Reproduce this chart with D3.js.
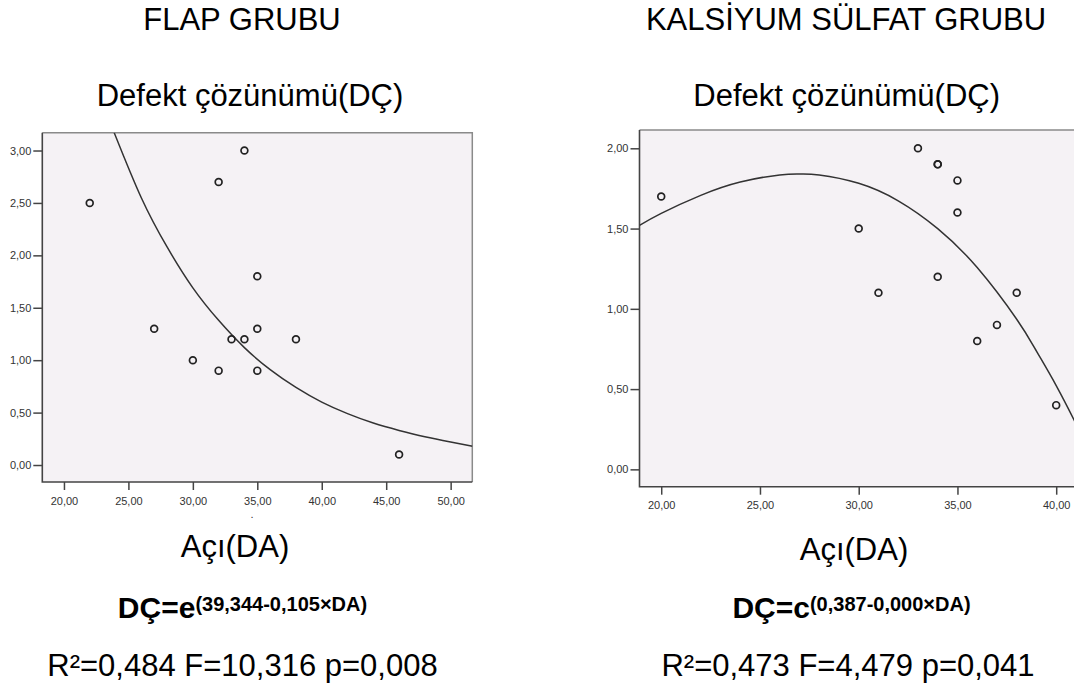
<!DOCTYPE html>
<html lang="tr">
<head>
  <meta charset="UTF-8">
  <style>
    body {
      margin: 0;
      overflow: hidden;
      background: #fff;
    }

    svg {
      display: block;
      font-family: "Liberation Sans", Arial, sans-serif;
    }

    .tick text {
      fill: #333;
      font-size: 11px;
    }

    .tick line {
      stroke: #444;
      stroke-width: 1.5;
    }

    .pt {
      fill: none;
      stroke: #222;
      stroke-width: 1.7;
    }

    .fit {
      fill: none;
      stroke: #333;
      stroke-width: 1.5;
    }
  </style>
  <script src="https://d3js.org/d3.v7.min.js"></script>
</head>
<body>

<svg id="charts"></svg>

<script>
  // FLAP GRUBU - observed points
  const flapAngle  = [22, 27, 30, 32, 32, 33, 34, 34, 35, 35, 35, 38, 46];
  const flapDefect = [2.5, 1.3, 1.0, 2.7, 0.9, 1.2, 3.0, 1.2, 1.8, 1.3, 0.9, 1.2, 0.1];
  // fitted curve
  const flapCurveX = [23.9, 26, 28, 30, 32, 34, 36, 38, 40, 42, 44, 46, 48, 50, 51.7];
  const flapCurveY = [3.17, 2.55, 2.08, 1.69, 1.38, 1.12, 0.91, 0.74, 0.60, 0.49, 0.40, 0.33, 0.27, 0.22, 0.18];

  // KALSİYUM SÜLFAT GRUBU - observed points
  const ksAngle  = [20, 30, 31, 33, 34, 34, 34, 35, 35, 36, 37, 38, 40];
  const ksDefect = [1.7, 1.5, 1.1, 2.0, 1.9, 1.9, 1.2, 1.8, 1.6, 0.8, 0.9, 1.1, 0.4];
  const ksCurveX = [18.9, 20, 22, 24, 26, 27, 28, 30, 32, 34, 36, 38, 39, 40, 41, 41.5];
  const ksCurveY = [1.52, 1.595, 1.707, 1.79, 1.834, 1.84, 1.834, 1.782, 1.673, 1.50, 1.257, 0.935, 0.737, 0.522, 0.284, 0.157];

  const flapXTicks = [20, 25, 30, 35, 40, 45, 50];
  const flapYTicks = [0, 0.5, 1, 1.5, 2, 2.5, 3];
  const ksXTicks = [20, 25, 30, 35, 40];
  const ksYTicks = [0, 0.5, 1, 1.5, 2];

  const trFormat = d3.formatLocale({ decimal: ",", thousands: ".", grouping: [3], currency: ["", ""] }).format(".2f");

  const svg = d3.select("#charts")
    .attr("width", 1074)
    .attr("height", 689);

  function panel(cfg) {
    const x = d3.scaleLinear().domain(cfg.xDomain).range(cfg.xRange);
    const y = d3.scaleLinear().domain(cfg.yDomain).range(cfg.yRange);
    const g = svg.append("g");

    const [x0, x1] = cfg.xRange;
    const [y0, y1] = cfg.yRange;

    g.append("rect")
      .attr("x", x0).attr("y", y1)
      .attr("width", x1 - x0).attr("height", y0 - y1)
      .attr("fill", "#f5f2f5");

    const clipId = cfg.id + "-clip";
    g.append("clipPath").attr("id", clipId)
      .append("rect")
      .attr("x", x0).attr("y", y1)
      .attr("width", x1 - x0).attr("height", y0 - y1);

    // axes
    g.append("g")
      .attr("transform", `translate(0,${y0})`)
      .call(d3.axisBottom(x).tickValues(cfg.xTicks).tickFormat(trFormat).tickSize(8).tickSizeOuter(0).tickPadding(7))
      .call(a => a.select(".domain").remove());

    g.append("g")
      .attr("transform", `translate(${x0},0)`)
      .call(d3.axisLeft(y).tickValues(cfg.yTicks).tickFormat(trFormat).tickSize(9).tickSizeOuter(0).tickPadding(2))
      .call(a => a.select(".domain").remove());

    // frame: top/right lighter than left/bottom
    g.append("path")
      .attr("d", `M${x0},${y1}H${x1}V${y0}`)
      .attr("fill", "none").attr("stroke", "#8a8a8a").attr("stroke-width", 1.5);
    g.append("path")
      .attr("d", `M${x0},${y1}V${y0}H${x1}`)
      .attr("fill", "none").attr("stroke", "#444").attr("stroke-width", 1.6);

    const curve = cfg.curveX.map((v, i) => [v, cfg.curveY[i]]);
    g.append("path")
      .attr("class", "fit")
      .attr("clip-path", `url(#${clipId})`)
      .attr("d", d3.line().x(d => x(d[0])).y(d => y(d[1])).curve(d3.curveNatural)(curve));

    g.selectAll("circle.pt")
      .data(cfg.px.map((v, i) => [v, cfg.py[i]]))
      .join("circle")
      .attr("class", "pt")
      .attr("cx", d => x(d[0]))
      .attr("cy", d => y(d[1]))
      .attr("r", 3.4);

    // texts
    g.append("text")
      .attr("x", cfg.cx).attr("y", 30)
      .attr("text-anchor", "middle")
      .attr("font-size", 31)
      .text(cfg.title);

    g.append("text")
      .attr("x", cfg.cx + cfg.subOff).attr("y", 106)
      .attr("text-anchor", "middle")
      .attr("font-size", 31)
      .text("Defekt çözünümü(DÇ)");

    g.append("text")
      .attr("x", cfg.axisCx).attr("y", cfg.axisY)
      .attr("text-anchor", "middle")
      .attr("font-size", 31)
      .text("Açı(DA)");

    const eq = g.append("text")
      .attr("x", cfg.eqCx).attr("y", 618)
      .attr("text-anchor", "middle")
      .attr("font-weight", "bold");
    eq.append("tspan").attr("font-size", 30).text(cfg.eqMain);
    eq.append("tspan").attr("font-size", 20).attr("dy", -7).text(cfg.eqSup);

    g.append("text")
      .attr("x", cfg.statCx).attr("y", 676)
      .attr("text-anchor", "middle")
      .attr("font-size", 31)
      .text(cfg.stats);

    return { x, y, g };
  }

  const left = panel({
    id: "flap",
    xDomain: [18.32, 51.68], xRange: [42.3, 472.3],
    yDomain: [-0.162, 3.169], yRange: [482, 132.8],
    xTicks: flapXTicks, yTicks: flapYTicks,
    px: flapAngle, py: flapDefect,
    curveX: flapCurveX, curveY: flapCurveY,
    title: "FLAP GRUBU", cx: 242, subOff: 8,
    axisCx: 235, axisY: 557,
    eqCx: 242.5, eqMain: "DÇ=e", eqSup: "(39,344-0,105×DA)",
    statCx: 242.5, stats: "R²=0,484 F=10,316 p=0,008"
  });

  // stray mark under the left x axis
  left.g.append("text")
    .attr("x", left.x(34.6)).attr("y", 518)
    .attr("text-anchor", "middle")
    .attr("font-size", 11)
    .attr("fill", "#333")
    .text(".");

  panel({
    id: "ks",
    xDomain: [18.9, 42], xRange: [639.5, 1095.7],
    yDomain: [-0.108, 2.114], yRange: [486.7, 130],
    xTicks: ksXTicks, yTicks: ksYTicks,
    px: ksAngle, py: ksDefect,
    curveX: ksCurveX, curveY: ksCurveY,
    title: "KALSİYUM SÜLFAT GRUBU", cx: 846, subOff: 0.7,
    axisCx: 854, axisY: 560,
    eqCx: 851.5, eqMain: "DÇ=c", eqSup: "(0,387-0,000×DA)",
    statCx: 848, stats: "R²=0,473 F=4,479 p=0,041"
  });
</script>

</body>
</html>
